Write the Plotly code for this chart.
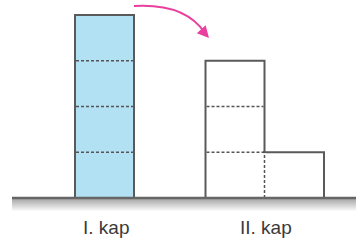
import plotly.graph_objects as go

# ---- data ----
kap_labels = ["I. kap", "II. kap"]
kap1_units = [4]            # container I: 4 equal units of water
kap2_units = [3, 1]         # container II: tall part 3 units, side step 1 unit
kap1_x = [104.5]
kap2_x = [235, 294]
kap_widths1 = [59]
kap2_widths = [59, 60]
label_x = [105.5, 266]

PX_PER_UNIT = 45.75
GROUND_PX = 198
def uy(px):
    return (GROUND_PX - px) / PX_PER_UNIT

EDGE = "#5a5a5a"
BLUE = "#b3e1f4"
PINK = "#e8409c"

fig = go.Figure()

shapes = []
n = 14
for i in range(n):
    t = i / (n - 1)
    g = int(165 + (255 - 165) * t)
    shapes.append(dict(type="rect", xref="x", yref="y", layer="below",
                       x0=12, x1=360, y0=uy(GROUND_PX + i), y1=uy(GROUND_PX + i + 1),
                       fillcolor=f"rgb({g},{g},{g})", line=dict(width=0)))

fig.add_trace(go.Bar(x=kap1_x, y=kap1_units, width=kap_widths1,
                     marker=dict(color=BLUE, line=dict(color=EDGE, width=2)),
                     hoverinfo="skip", showlegend=False))
fig.add_trace(go.Bar(x=kap2_x, y=kap2_units, width=kap2_widths,
                     marker=dict(color="white", line=dict(color=EDGE, width=2)),
                     hoverinfo="skip", showlegend=False))

dash = "3px,2px"
# dotted seam between the tall part and the side step of container II
seam_x = kap2_x[0] + kap2_widths[0] / 2
shapes.append(dict(type="line", xref="x", yref="y", x0=seam_x, x1=seam_x,
                   y0=0.02, y1=kap2_units[1] - 0.02, line=dict(color="white", width=3)))
shapes.append(dict(type="line", xref="x", yref="y", x0=seam_x, x1=seam_x,
                   y0=0, y1=kap2_units[1], line=dict(color="#555555", width=1.5, dash=dash)))

shapes.append(dict(type="line", xref="x", yref="y", x0=12, x1=360, y0=0, y1=0,
                   line=dict(color="#666666", width=2.5)))

x0_1 = kap1_x[0] - kap_widths1[0] / 2
x1_1 = kap1_x[0] + kap_widths1[0] / 2
for k in range(1, kap1_units[0]):
    shapes.append(dict(type="line", xref="x", yref="y", x0=x0_1 + 1, x1=x1_1 - 1, y0=k, y1=k,
                       line=dict(color="#555555", width=1.5, dash=dash)))
x0_2 = kap2_x[0] - kap2_widths[0] / 2
x1_2 = kap2_x[0] + kap2_widths[0] / 2
for k in range(1, kap2_units[0]):
    shapes.append(dict(type="line", xref="x", yref="y", x0=x0_2 + 1, x1=x1_2 - 1, y0=k, y1=k,
                       line=dict(color="#555555", width=1.5, dash=dash)))

shapes.append(dict(type="path", xref="x", yref="y",
                   path=f"M 134,{uy(6)} Q 185,{uy(3)} 205,{uy(33)}",
                   line=dict(color=PINK, width=1.8)))

annotations = [dict(x=209, y=uy(38), ax=201, ay=uy(29), xref="x", yref="y",
                    axref="x", ayref="y", showarrow=True, arrowhead=2,
                    arrowsize=1.3, arrowwidth=1.8, arrowcolor=PINK, text="")]
for lx, lab in zip(label_x, kap_labels):
    annotations.append(dict(x=lx, y=uy(227), xref="x", yref="y", text=lab,
                            showarrow=False,
                            font=dict(family="Liberation Sans, Arial", size=19, color="#3a3a3a")))

fig.update_layout(
    width=356, height=240, margin=dict(l=0, r=0, t=0, b=0),
    paper_bgcolor="white", plot_bgcolor="white",
    xaxis=dict(range=[0, 356], visible=False, fixedrange=True),
    yaxis=dict(range=[uy(240), uy(0)], visible=False, fixedrange=True),
    shapes=shapes, annotations=annotations, bargap=0, barmode="overlay",
)

fig.write_html("out.html", config={"staticPlot": True},
               post_script="document.body.style.margin='0';document.body.style.overflow='hidden';")
